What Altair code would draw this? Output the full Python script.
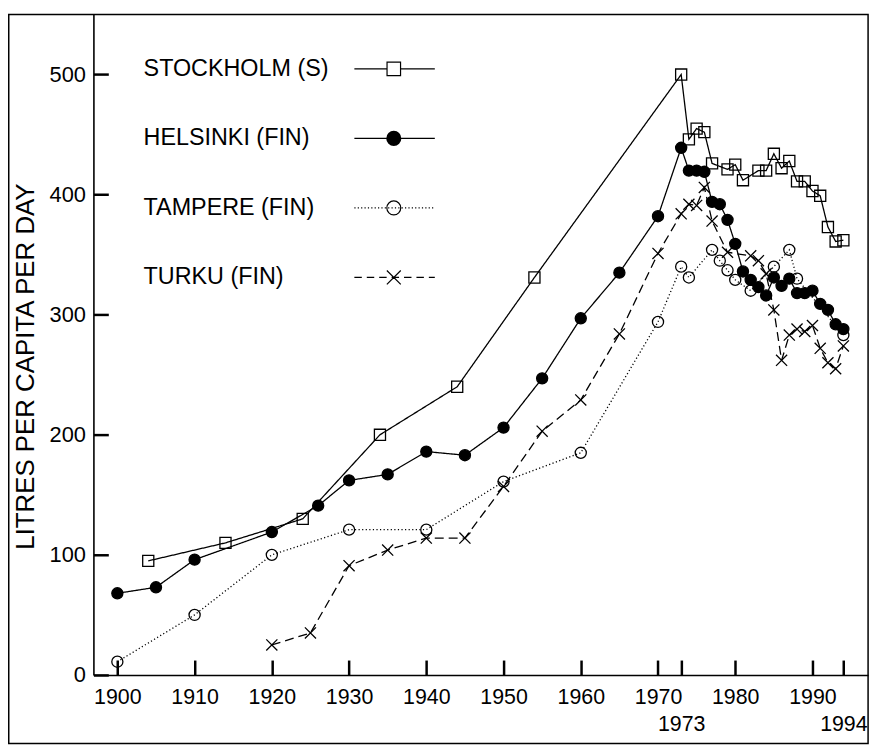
import altair as alt
import pandas as pd

# ---------------- data ----------------
series_names = ["STOCKHOLM (S)", "HELSINKI (FIN)", "TAMPERE (FIN)", "TURKU (FIN)"]

stockholm_years = [1904, 1914, 1924, 1934, 1944, 1954, 1973, 1974, 1975, 1976, 1977,
                   1979, 1980, 1981, 1983, 1984, 1985, 1986, 1987, 1988, 1989, 1990,
                   1991, 1992, 1993, 1994]
stockholm_values = [95, 110, 130, 200, 240, 331, 500, 446, 455, 452, 426,
                    421, 425, 412, 420, 420, 434, 422, 428, 411, 411, 403,
                    399, 373, 361, 362]

helsinki_years = [1900, 1905, 1910, 1920, 1926, 1930, 1935, 1940, 1945, 1950, 1955,
                  1960, 1965, 1970, 1973, 1974, 1975, 1976, 1977, 1978, 1979, 1980,
                  1981, 1982, 1983, 1984, 1985, 1986, 1987, 1988, 1989, 1990, 1991,
                  1992, 1993, 1994]
helsinki_values = [68, 73, 96, 119, 141, 162, 167, 186, 183, 206, 247,
                   297, 335, 382, 439, 420, 420, 419, 394, 392, 379, 359,
                   336, 329, 323, 316, 331, 324, 330, 318, 318, 320, 309,
                   304, 292, 288]

tampere_years = [1900, 1910, 1920, 1930, 1940, 1950, 1960, 1970, 1973, 1974, 1977,
                 1978, 1979, 1980, 1982, 1985, 1987, 1988, 1994]
tampere_values = [11, 50, 100, 121, 121, 161, 185, 294, 340, 331, 354,
                  345, 337, 329, 320, 340, 354, 330, 283]

turku_years = [1920, 1925, 1930, 1935, 1940, 1945, 1950, 1955, 1960, 1965, 1970,
               1973, 1974, 1975, 1976, 1977, 1979, 1982, 1983, 1984, 1985, 1986,
               1987, 1988, 1989, 1990, 1991, 1992, 1993, 1994]
turku_values = [25, 35, 91, 104, 114, 114, 157, 203, 229, 284, 351,
                384, 392, 391, 406, 378, 352, 349, 345, 334, 304, 262,
                283, 288, 286, 291, 272, 260, 255, 274]

x_ticks = [1900, 1910, 1920, 1930, 1940, 1950, 1960, 1970, 1980, 1990, 1973, 1994]
second_row_years = [1973, 1994]
y_ticks = [0, 100, 200, 300, 400, 500]
y_title = "LITRES PER CAPITA PER DAY"

rows = []
for name, yrs, vals in zip(series_names,
                           [stockholm_years, helsinki_years, tampere_years, turku_years],
                           [stockholm_values, helsinki_values, tampere_values, turku_values]):
    rows += [{"series": name, "year": y, "value": v} for y, v in zip(yrs, vals)]
df = pd.DataFrame(rows)

# ---------------- layout / style ----------------
W, H = 780, 665
X_DOMAIN = [1896.9, 1997.2]
Y_DOMAIN = [0, 550]
FONT = "Liberation Sans"
PAD = {"left": 86, "top": 4, "right": 12, "bottom": 69}
TICK_LEN = 15
INWARD = {"expr": f"-{TICK_LEN}"}   # negative tick size -> ticks point into the plot


def xs():
    return alt.Scale(domain=X_DOMAIN, nice=False, zero=False)


def ys():
    return alt.Scale(domain=Y_DOMAIN, nice=False, zero=False)


second = " || ".join(f"datum.value == {y}" for y in second_row_years)
label_expr = f"({second}) ? ['', datum.label] : datum.label"

# legend symbol paths (unit = 10 px with symbolSize 400)
U = 10.0
SYM_CENTER = 128.0          # page x of the nominal legend symbol centre
L0 = (356 - SYM_CENTER) / U
L1 = (437 - SYM_CENTER) / U
C = (395.7 - SYM_CENTER) / U
R = 0.7


def f(v):
    return f"{v:.2f}"


def dashes(a, b, dash, gap):
    out = []
    x = a
    while x < b:
        e = min(x + dash, b)
        out.append(f"M{f(x)},0H{f(e)}")
        x = e + gap
    return "".join(out)


def circle(cx, r):
    return (f"M{f(cx + r)},0A{f(r)},{f(r)},0,1,1,{f(cx - r)},0"
            f"A{f(r)},{f(r)},0,1,1,{f(cx + r)},0Z")


sq = 0.68
path_stockholm = (f"M{f(L0)},0H{f(C - sq)}M{f(C + sq)},0H{f(L1)}"
                  f"M{f(C - sq)},{f(-sq)}H{f(C + sq)}V{f(sq)}H{f(C - sq)}Z")
path_helsinki = f"M{f(L0)},0H{f(L1)}" + "".join(
    circle(C, r) for r in [0.7, 0.6, 0.5, 0.4, 0.3, 0.2, 0.1]) + f"M{f(C - 0.05)},0H{f(C + 0.05)}"
path_tampere = dashes(L0, L1, 0.12, 0.22) + circle(C, R)
path_turku = (dashes(L0, L1, 0.75, 0.5)
              + f"M{f(C - R)},{f(-R)}L{f(C + R)},{f(R)}M{f(C - R)},{f(R)}L{f(C + R)},{f(-R)}")
legend_paths = [path_stockholm, path_helsinki, path_tampere, path_turku]

X_MARK = "M-1,-1L1,1M-1,1L1,-1"

# ---------------- layers ----------------
frame = alt.Chart(pd.DataFrame({"f": [0]})).mark_rect(
    fill="transparent", fillOpacity=0, stroke="black", strokeWidth=1.5
).encode(
    x=alt.value(-85.25), x2=alt.value(W), y=alt.value(0), y2=alt.value(H + 69)
)

axis_common = dict(ticks=True, tickSize=INWARD, tickWidth=2.5, tickColor="black",
                   tickOpacity=1, domain=True, domainColor="black", domainWidth=1.6,
                   labelColor="black", labelFont=FONT, labelOverlap=False,
                   labelFlush=False, grid=False, format="d", zindex=2)

lines = alt.Chart(df).mark_line(color="black", strokeWidth=1.3).encode(
    x=alt.X("year:Q", scale=xs(), axis=alt.Axis(
        orient="bottom", values=x_ticks, labelFontSize=21.5,
        labelPadding=12 + TICK_LEN, labelExpr=label_expr,
        labelLineHeight=27, labelBaseline="top", title=None, **axis_common)),
    y=alt.Y("value:Q", scale=ys(), axis=alt.Axis(
        orient="left", values=y_ticks, labelFontSize=22, labelPadding=8 + TICK_LEN,
        title=y_title, titleFont=FONT, titleFontSize=26,
        titleFontWeight="normal", titleColor="black", titleX=-68, titleY=354,
        titleAngle=270, titleAlign="center", titleBaseline="middle", **axis_common)),
    strokeDash=alt.StrokeDash("series:N", scale=alt.Scale(
        domain=series_names, range=[[1, 0], [1, 0], [1.2, 2.4], [9, 5]]), legend=None),
    detail="series:N",
)

points = alt.Chart(df).mark_point(
    stroke="black", strokeWidth=1.3, size=125, opacity=1
).encode(
    x=alt.X("year:Q", scale=xs(), axis=None),
    y=alt.Y("value:Q", scale=ys(), axis=None),
    shape=alt.Shape("series:N", scale=alt.Scale(
        domain=series_names, range=["square", "circle", "circle", X_MARK]), legend=None),
    fill=alt.Fill("series:N", scale=alt.Scale(
        domain=series_names, range=["transparent", "black", "transparent", "transparent"]),
        legend=None),
)

legend_layer = alt.Chart(df).transform_filter("false").mark_point(
    color="black", opacity=1, strokeWidth=1.2
).encode(
    shape=alt.Shape("series:N", scale=alt.Scale(domain=series_names, range=legend_paths),
                    legend=alt.Legend(
                        orient="none", legendX=23, legendY=43, title=None,
                        direction="vertical", labelFontSize=23.5, labelFont=FONT,
                        labelColor="black", labelLimit=0, labelOffset=4,
                        symbolSize=400, symbolStrokeWidth=1.2, symbolStrokeColor="black",
                        symbolFillColor="transparent",
                        rowPadding=45, padding=0, offset=0))
)

chart = alt.layer(frame, lines, points, legend_layer).resolve_scale(
    x="independent", y="independent",
    shape="independent", fill="independent", strokeDash="independent"
).resolve_axis(
    x="independent", y="independent"
).properties(
    width=W, height=H, padding=PAD, autosize=alt.AutoSizeParams(type="none")
).configure(font=FONT).configure_view(stroke="transparent")

chart.save("out.html", embed_options={"renderer": "svg", "actions": False})
